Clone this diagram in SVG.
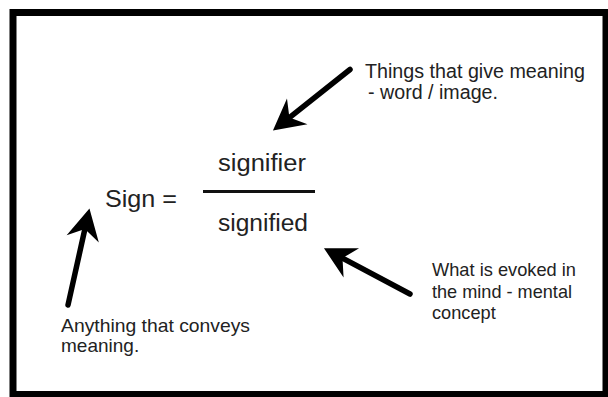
<svg xmlns="http://www.w3.org/2000/svg" width="608" height="397" viewBox="0 0 608 397">
  <style>
    .lbl { font-family: "Liberation Sans", Arial, Helvetica, sans-serif; fill: #222; }
    .arrow { stroke: #000; stroke-width: 5.5; stroke-linecap: round; fill: none; marker-end: url(#head); }
  </style>
  <defs>
    <marker id="head" markerUnits="userSpaceOnUse" viewBox="-34 -18 36 36" markerWidth="36" markerHeight="36" refX="-15" refY="0" orient="auto">
      <path d="M0,0 L-31,-16.5 L-21,0 L-31,16.5 Z" fill="#000"/>
    </marker>
  </defs>
  <rect x="0" y="0" width="608" height="397" fill="#fff"/>
  <rect id="frame" x="13" y="12.5" width="593" height="382" fill="#fff" stroke="#000" stroke-width="7"/>

  <g id="connectors">
    <line class="arrow" x1="350" y1="69.5" x2="284.7" y2="121.3"/>
    <line class="arrow" x1="68" y1="305" x2="86.2" y2="223.2"/>
    <line class="arrow" x1="410" y1="294" x2="337.2" y2="255.3"/>
  </g>

  <g id="sign">
    <text class="lbl" x="105" y="207" font-size="24" textLength="72" lengthAdjust="spacingAndGlyphs">Sign =</text>
  </g>
  <g id="fraction">
    <text class="lbl" x="218" y="171" font-size="23" textLength="88" lengthAdjust="spacingAndGlyphs">signifier</text>
    <line x1="203" y1="191.5" x2="315" y2="191.5" stroke="#111" stroke-width="2.8"/>
    <text class="lbl" x="218" y="231" font-size="23.5" textLength="90" lengthAdjust="spacingAndGlyphs">signified</text>
  </g>
  <g id="signifier-note">
    <text class="lbl" x="365" y="78" font-size="19.5" textLength="220" lengthAdjust="spacingAndGlyphs">Things that give meaning</text>
    <text class="lbl" x="368" y="99" font-size="19.5" textLength="130" lengthAdjust="spacingAndGlyphs">- word / image.</text>
  </g>
  <g id="signified-note">
    <text class="lbl" x="432" y="276" font-size="18.2" textLength="144" lengthAdjust="spacingAndGlyphs">What is evoked in</text>
    <text class="lbl" x="432" y="298" font-size="18.2" textLength="140" lengthAdjust="spacingAndGlyphs">the mind - mental</text>
    <text class="lbl" x="432" y="319" font-size="18.2">concept</text>
  </g>
  <g id="sign-note">
    <text class="lbl" x="61" y="331.5" font-size="19" textLength="189" lengthAdjust="spacingAndGlyphs">Anything that conveys</text>
    <text class="lbl" x="61" y="352" font-size="19">meaning.</text>
  </g>
</svg>
